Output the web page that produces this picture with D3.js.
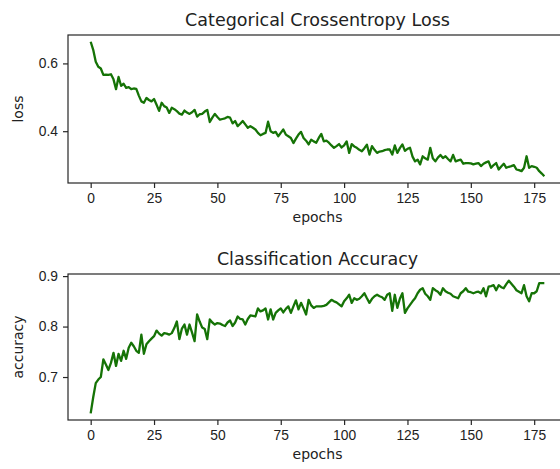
<!DOCTYPE html>
<html>
<head>
<meta charset="utf-8">
<script src="https://cdn.jsdelivr.net/npm/d3@7"></script>
<style>
	body { margin: 0; background: #fff; }
	svg { display: block; font-family: "DejaVu Sans", sans-serif; }
</style>
</head>
<body>
<div id="loss"></div>
<div id="acc"></div>
<script>
/* global d3 */

var lossValues = [
	0.664, 0.640, 0.605, 0.590, 0.585, 0.566, 0.567, 0.566, 0.568, 0.553,
	0.524, 0.560, 0.534, 0.540, 0.528, 0.530, 0.524, 0.526, 0.525, 0.505,
	0.488, 0.484, 0.498, 0.492, 0.488, 0.495, 0.478, 0.460, 0.484, 0.474,
	0.470, 0.454, 0.469, 0.465, 0.459, 0.452, 0.449, 0.461, 0.455, 0.451,
	0.456, 0.463, 0.443, 0.450, 0.451, 0.458, 0.463, 0.427, 0.440, 0.451,
	0.442, 0.434, 0.436, 0.438, 0.442, 0.440, 0.423, 0.430, 0.415, 0.422,
	0.430, 0.420, 0.410, 0.415, 0.410, 0.405, 0.395, 0.388, 0.392, 0.395,
	0.428, 0.400, 0.395, 0.398, 0.385, 0.395, 0.405, 0.390, 0.385, 0.380,
	0.365, 0.378, 0.390, 0.398, 0.380, 0.372, 0.361, 0.375, 0.370, 0.366,
	0.380, 0.392, 0.370, 0.372, 0.366, 0.358, 0.351, 0.356, 0.362, 0.352,
	0.358, 0.370, 0.336, 0.362, 0.355, 0.351, 0.345, 0.341, 0.350, 0.360,
	0.331, 0.356, 0.345, 0.336, 0.340, 0.341, 0.344, 0.346, 0.346, 0.331,
	0.358, 0.336, 0.350, 0.361, 0.342, 0.348, 0.351, 0.325, 0.311, 0.316,
	0.302, 0.326, 0.320, 0.316, 0.351, 0.320, 0.311, 0.322, 0.330, 0.321,
	0.326, 0.318, 0.311, 0.330, 0.311, 0.314, 0.316, 0.304, 0.306, 0.306,
	0.305, 0.302, 0.304, 0.306, 0.297, 0.304, 0.308, 0.311, 0.292, 0.300,
	0.306, 0.287, 0.296, 0.304, 0.292, 0.295, 0.297, 0.300, 0.287, 0.285,
	0.282, 0.292, 0.326, 0.292, 0.297, 0.295, 0.292, 0.282, 0.275, 0.267
];

var accValues = [
	0.628, 0.660, 0.688, 0.695, 0.700, 0.735, 0.725, 0.714, 0.728, 0.748,
	0.722, 0.746, 0.732, 0.752, 0.736, 0.758, 0.768, 0.761, 0.752, 0.748,
	0.784, 0.746, 0.765, 0.771, 0.776, 0.781, 0.792, 0.786, 0.782, 0.787,
	0.786, 0.784, 0.787, 0.797, 0.810, 0.775, 0.796, 0.804, 0.784, 0.804,
	0.788, 0.771, 0.824, 0.810, 0.798, 0.795, 0.775, 0.814, 0.808, 0.804,
	0.807, 0.806, 0.803, 0.801, 0.808, 0.812, 0.801, 0.808, 0.820, 0.815,
	0.814, 0.804, 0.815, 0.822, 0.821, 0.820, 0.836, 0.830, 0.832, 0.836,
	0.814, 0.834, 0.814, 0.827, 0.832, 0.836, 0.828, 0.835, 0.840, 0.827,
	0.840, 0.852, 0.834, 0.847, 0.836, 0.824, 0.853, 0.842, 0.837, 0.840,
	0.840, 0.840, 0.841, 0.843, 0.848, 0.853, 0.850, 0.848, 0.844, 0.840,
	0.850, 0.856, 0.863, 0.847, 0.856, 0.853, 0.855, 0.860, 0.866, 0.856,
	0.847, 0.855, 0.860, 0.863, 0.860, 0.858, 0.853, 0.863, 0.866, 0.831,
	0.863, 0.837, 0.855, 0.866, 0.827, 0.836, 0.843, 0.850, 0.856, 0.866,
	0.873, 0.876, 0.865, 0.860, 0.853, 0.876, 0.872, 0.869, 0.863, 0.876,
	0.870, 0.867, 0.865, 0.860, 0.858, 0.856, 0.866, 0.870, 0.876, 0.869,
	0.868, 0.866, 0.868, 0.869, 0.866, 0.876, 0.860, 0.879, 0.880, 0.882,
	0.872, 0.882, 0.878, 0.876, 0.884, 0.891, 0.885, 0.879, 0.872, 0.869,
	0.866, 0.882, 0.860, 0.850, 0.866, 0.866, 0.870, 0.886, 0.886, 0.886
];

var epochTicks = [0, 25, 50, 75, 100, 125, 150, 175];
var lossTicks = [0.4, 0.6];
var accTicks = [0.7, 0.8, 0.9];

function trainingPlot() {

	var margin = {top: 35, right: -7, bottom: 0, left: 68},
		width = 560,
		height = 183,
		title = "",
		yLabel = "",
		yTicks = [],
		xLabelHeight = 50;

	function chart(selection) {

		selection.each(function (data) {

			var innerWidth = width - margin.left - margin.right,
				innerHeight = height - margin.top;

			var svg = d3.select(this).append("svg")
				.attr("width", width)
				.attr("height", height + xLabelHeight);

			var g = svg.append("g")
				.attr("transform", "translate(" + margin.left + "," + margin.top + ")");

			// matplotlib style 5% padding around the data
			var n = data.length - 1,
				ext = d3.extent(data),
				pad = (ext[1] - ext[0]) * 0.05;

			var xScale = d3.scaleLinear()
				.domain([-n * 0.05, n * 1.05])
				.range([0, innerWidth]);
			var yScale = d3.scaleLinear()
				.domain([ext[0] - pad, ext[1] + pad])
				.range([innerHeight, 0]);

			var line = d3.line()
				.x(function(d, i) { return xScale(i); })
				.y(function(d) { return yScale(d); });

			var xAxis = g.append("g")
				.attr("transform", "translate(0," + innerHeight + ")")
				.call(d3.axisBottom(xScale).tickValues(epochTicks).tickSize(5).tickPadding(5));

			var yAxis = g.append("g")
				.call(d3.axisLeft(yScale).tickValues(yTicks).tickFormat(d3.format(".1f")).tickSize(5).tickPadding(5));

			[xAxis, yAxis].forEach(function(a) {
				a.select(".domain").remove();
				a.selectAll("line").attr("stroke", "#262626").attr("stroke-width", 1.2);
				a.selectAll("text").attr("fill", "#222").style("font-size", "13.8px");
			});

			g.append("path")
				.datum(data)
				.attr("fill", "none")
				.attr("stroke", "#157306")
				.attr("stroke-width", 2.3)
				.attr("stroke-linejoin", "round")
				.attr("d", line);

			g.append("rect")
				.attr("width", innerWidth)
				.attr("height", innerHeight)
				.attr("fill", "none")
				.attr("stroke", "#262626")
				.attr("stroke-width", 1.2);

			g.append("text")
				.attr("x", innerWidth / 2)
				.attr("y", -9)
				.attr("text-anchor", "middle")
				.attr("fill", "#222")
				.style("font-size", "17.5px")
				.text(title);

			g.append("text")
				.attr("x", innerWidth / 2)
				.attr("y", innerHeight + 39)
				.attr("text-anchor", "middle")
				.attr("fill", "#222")
				.style("font-size", "14px")
				.text("epochs");

			g.append("text")
				.attr("transform", "translate(-45," + innerHeight / 2 + ") rotate(-90)")
				.attr("text-anchor", "middle")
				.attr("fill", "#222")
				.style("font-size", "14px")
				.text(yLabel);
		});
	}

	chart.margin = function(_) {
		if (!arguments.length) return margin;
		margin = _;
		return chart;
	};

	chart.height = function(_) {
		if (!arguments.length) return height;
		height = _;
		return chart;
	};

	chart.title = function(_) {
		if (!arguments.length) return title;
		title = _;
		return chart;
	};

	chart.yLabel = function(_) {
		if (!arguments.length) return yLabel;
		yLabel = _;
		return chart;
	};

	chart.yTicks = function(_) {
		if (!arguments.length) return yTicks;
		yTicks = _;
		return chart;
	};

	chart.xLabelHeight = function(_) {
		if (!arguments.length) return xLabelHeight;
		xLabelHeight = _;
		return chart;
	};

	return chart;
}

d3.select("#loss").datum(lossValues)
	.call(trainingPlot().title("Categorical Crossentropy Loss").yLabel("loss").yTicks(lossTicks));

// second panel: svg starts at y = 233
d3.select("#acc").datum(accValues)
	.call(trainingPlot().margin({top: 41, right: -7, bottom: 0, left: 68})
		.height(187).xLabelHeight(49)
		.title("Classification Accuracy").yLabel("accuracy").yTicks(accTicks));
</script>
</body>
</html>
